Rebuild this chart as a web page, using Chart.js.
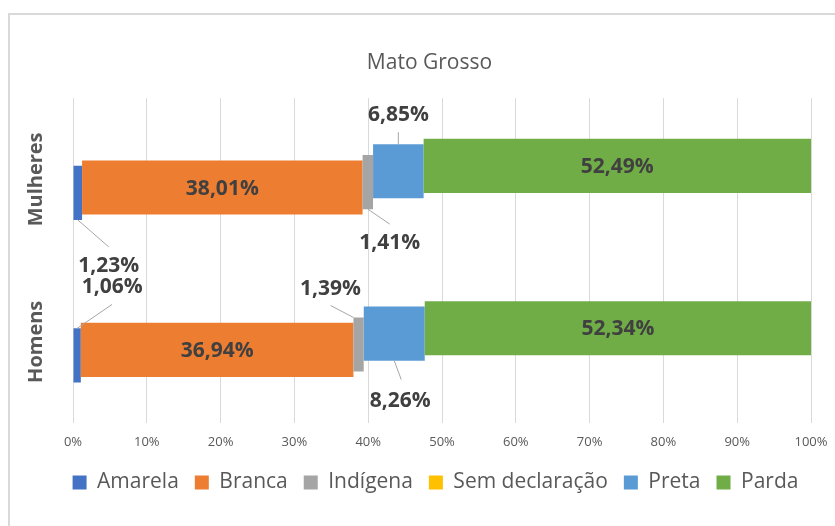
<!DOCTYPE html>
<html>
<head>
<meta charset="utf-8">
<script src="https://cdn.jsdelivr.net/npm/chart.js@4.4.0/dist/chart.umd.min.js"></script>
<style>
  html, body { margin: 0; padding: 0; background: #fff; }
  #moldura { position: absolute; left: 8px; top: 13px; width: 900px; height: 600px; border: 2px solid #d9d9d9; }
  canvas { position: absolute; left: 0; top: 0; }
</style>
</head>
<body>
<div id="moldura"></div>
<canvas id="grafico" width="835" height="526"></canvas>
<script>
// dados (percentuais por cor/raça)
const categorias = ["Mulheres", "Homens"];
const amarela = [1.23, 1.06];
const branca = [38.01, 36.94];
const indigena = [1.41, 1.39];
const semDeclaracao = [0.01, 0.01];
const preta = [6.85, 8.26];
const parda = [52.49, 52.34];
const ticksX = [0, 10, 20, 30, 40, 50, 60, 70, 80, 90, 100];

const series = [
  { nome: "Amarela", valores: amarela, cor: "#4472C4" },
  { nome: "Branca", valores: branca, cor: "#ED7D31" },
  { nome: "Indígena", valores: indigena, cor: "#A5A5A5" },
  { nome: "Sem declaração", valores: semDeclaracao, cor: "#FFC000" },
  { nome: "Preta", valores: preta, cor: "#5B9BD5" },
  { nome: "Parda", valores: parda, cor: "#70AD47" }
];

// 100% empilhado: calcula inicio/fim de cada segmento
const totais = categorias.map((c, i) => series.reduce((s, se) => s + se.valores[i], 0));
const acumulado = categorias.map(() => 0);
const datasets = series.map(se => {
  const data = se.valores.map((v, i) => {
    const ini = acumulado[i] / totais[i] * 100;
    acumulado[i] += v;
    return [ini, acumulado[i] / totais[i] * 100];
  });
  return {
    label: se.nome,
    data: data,
    valores: se.valores,
    backgroundColor: se.cor,
    borderWidth: 0,
    categoryPercentage: 0.2,
    barPercentage: 10
  };
}).reverse(); // primeira série fica embaixo (como no Excel)

// posição dos rótulos com linha de chamada (relativo ao centro da barra)
const chamadas = {
  "Amarela": [
    { linha: [0, 27, 31, 54], texto: [31, 73] },
    { linha: [0, -27, 35, -51], texto: [35, -68] }
  ],
  "Indígena": [
    { linha: [0, 27, 22, 42], texto: [22, 61] },
    { linha: [-5, -27, -28, -39], texto: [-28, -55] }
  ],
  "Preta": [
    { linha: [0, -27, 0, -39], texto: [0, -56] },
    { linha: [0, 27, 7, 46], texto: [6, 67] }
  ]
};
const centrados = ["Branca", "Parda"];

const formata = v => v.toFixed(2).replace(".", ",") + "%";

const rotulos = {
  id: "rotulos",
  afterLayout(chart) {
    // legenda um pouco mais à direita, como no original
    if (chart.legend) {
      chart.legend.left += 6;
      chart.legend.right += 6;
    }
  },
  afterDatasetsDraw(chart) {
    const ctx = chart.ctx;
    ctx.save();
    // nomes das categorias (eixo vertical)
    const yScale = chart.scales.y;
    ctx.fillStyle = "#595959";
    ctx.font = "bold 20px 'Open Sans'";
    ctx.textAlign = "center";
    ctx.textBaseline = "middle";
    categorias.forEach((c, i) => {
      const y = yScale.getPixelForValue(i);
      ctx.save();
      ctx.translate(36, y);
      ctx.rotate(-Math.PI / 2);
      ctx.fillText(c, 0, 0);
      ctx.restore();
    });

    ctx.font = "bold 21px 'Open Sans'";
    ctx.fillStyle = "#404040";
    ctx.strokeStyle = "#a6a6a6";
    ctx.lineWidth = 1;
    chart.data.datasets.forEach((ds, di) => {
      const meta = chart.getDatasetMeta(di);
      meta.data.forEach((bar, i) => {
        const cx = (bar.x + bar.base) / 2;
        const cy = bar.y;
        const txt = formata(ds.valores[i]);
        if (centrados.includes(ds.label)) {
          ctx.fillText(txt, cx, cy + 1);
        } else if (chamadas[ds.label]) {
          const c = chamadas[ds.label][i];
          ctx.beginPath();
          ctx.moveTo(cx + c.linha[0], cy + c.linha[1]);
          ctx.lineTo(cx + c.linha[2], cy + c.linha[3]);
          ctx.stroke();
          ctx.fillText(txt, cx + c.texto[0], cy + c.texto[1]);
        }
      });
    });
    ctx.restore();
  }
};

const ctx = document.getElementById("grafico").getContext("2d");
new Chart(ctx, {
  type: "bar",
  data: {
    labels: categorias,
    datasets: datasets
  },
  options: {
    responsive: false,
    animation: false,
    indexAxis: "y",
    layout: { padding: { left: 48, right: 24, top: 0, bottom: 23 } },
    scales: {
      x: {
        min: 0,
        max: 100,
        afterBuildTicks: scale => { scale.ticks = ticksX.map(v => ({ value: v })); },
        afterFit: scale => {
          scale.height = 33;
          scale.paddingLeft = 0;
          scale.paddingRight = 0;
        },
        ticks: {
          callback: v => v + "%",
          color: "#595959",
          font: { family: "'Open Sans'", size: 13 },
          padding: 11
        },
        grid: { color: "#d9d9d9", lineWidth: 1, drawTicks: false },
        border: { display: false }
      },
      y: {
        afterFit: scale => { scale.width = 25; },
        ticks: { display: false },
        grid: { display: false },
        border: { display: false }
      }
    },
    plugins: {
      title: {
        display: true,
        text: "Mato Grosso",
        color: "#595959",
        font: { family: "'Open Sans'", size: 21, weight: "normal" },
        padding: { top: 50, bottom: 23 }
      },
      legend: {
        position: "bottom",
        reverse: true,
        labels: {
          boxWidth: 14,
          boxHeight: 14,
          padding: 16,
          color: "#595959",
          font: { family: "'Open Sans'", size: 21 }
        }
      },
      tooltip: { enabled: false }
    }
  },
  plugins: [rotulos]
});
</script>
</body>
</html>
